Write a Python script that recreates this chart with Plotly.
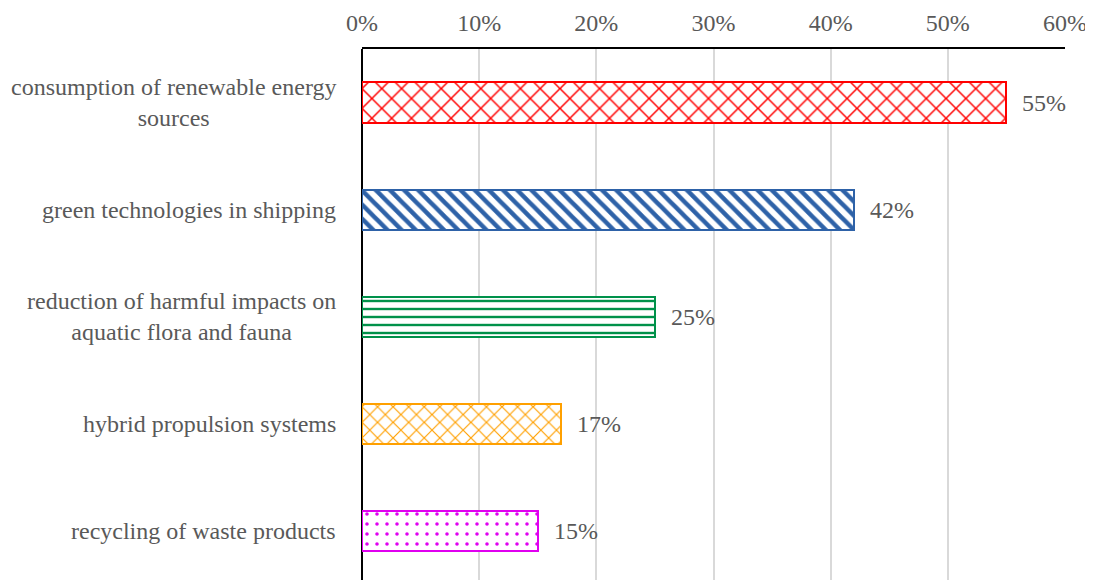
import plotly.graph_objects as go

categories = [
    "consumption of renewable energy<br>sources",
    "green technologies in shipping",
    "reduction of harmful impacts on<br>aquatic flora and fauna",
    "hybrid propulsion systems",
    "recycling of waste products",
]
values = [0.55, 0.42, 0.25, 0.17, 0.15]
value_labels = ["55%", "42%", "25%", "17%", "15%"]
colors = ["#FF0000", "#2E62A8", "#00914A", "#FFA000", "#E000F0"]
shapes = ["x", "\\", "-", "x", "."]
sizes = [14, 10, 8, 11, 10]
solidities = [0.2, 0.45, 0.3, 0.2, 0.1]
x_ticks = [0, 0.1, 0.2, 0.3, 0.4, 0.5, 0.6]
x_tick_labels = ["0%", "10%", "20%", "30%", "40%", "50%", "60%"]

FONT = "Liberation Serif"
GRAY = "#595959"
FS = 24

fig = go.Figure()
for i, (cat, v) in enumerate(zip(categories, values)):
    fig.add_trace(go.Bar(
        x=[v], y=[i], orientation="h", width=0.374,
        marker=dict(
            color="white",
            line=dict(color=colors[i], width=2),
            pattern=dict(shape=shapes[i], fgcolor=colors[i], bgcolor="white",
                         fgopacity=1, size=sizes[i], solidity=solidities[i],
                         fillmode="overlay"),
        ),
        showlegend=False, hoverinfo="skip",
    ))
    fig.add_annotation(x=v, y=i, xref="x", yref="y", text=value_labels[i],
                       showarrow=False, xanchor="left", xshift=14,
                       font=dict(family=FONT, size=FS, color=GRAY))
    fig.add_annotation(x=0, y=i, xref="paper", yref="y", text=cat,
                       showarrow=False, xanchor="right", xshift=-24, align="center",
                       font=dict(family=FONT, size=FS, color=GRAY))

fig.update_layout(
    width=1093, height=580,
    margin=dict(l=354, r=36, t=41, b=0, pad=0, autoexpand=False),
    plot_bgcolor="white", paper_bgcolor="white",
    bargap=0,
    xaxis=dict(side="top", range=[0, 0.6], tickvals=x_ticks, ticktext=x_tick_labels,
               showgrid=True, gridcolor="#D9D9D9", gridwidth=1.5,
               zeroline=True, zerolinecolor="black", zerolinewidth=2,
               showline=True, linecolor="black", linewidth=2,
               ticks="outside", ticklen=6, tickcolor="rgba(0,0,0,0)",
               tickfont=dict(family=FONT, size=FS, color=GRAY)),
    yaxis=dict(range=[4.537, -0.5], showticklabels=False, showgrid=False,
               zeroline=False, showline=False, tickvals=list(range(5))),
)

fig.write_html("out.html")
